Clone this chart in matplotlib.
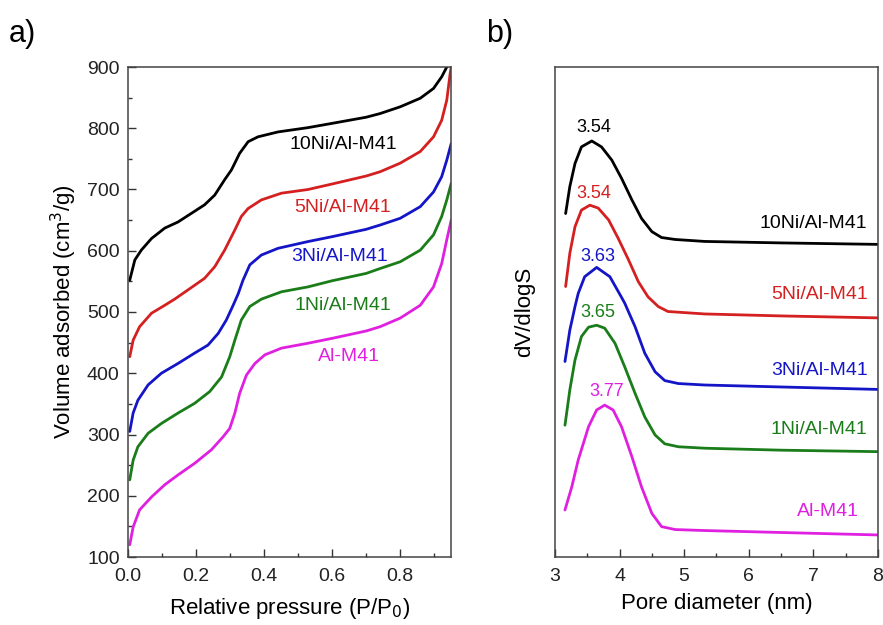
import numpy as np
import matplotlib.pyplot as plt
from matplotlib.ticker import MultipleLocator

plt.rcParams['font.family'] = ['Liberation Sans', 'DejaVu Sans']

names = ['Al-M41', '1Ni/Al-M41', '3Ni/Al-M41', '5Ni/Al-M41', '10Ni/Al-M41']
colors = ['#e020e0', '#1a7d1a', '#1515c8', '#d42020', '#000000']

# a) N2 adsorption isotherms
p_al = [0.005, 0.015, 0.034, 0.069, 0.108, 0.147, 0.196, 0.245, 0.279, 0.299, 0.314, 0.328,
        0.348, 0.373, 0.402, 0.451, 0.529, 0.6, 0.7, 0.741, 0.8, 0.859, 0.898, 0.922, 0.937, 0.95]
v_al = [120, 149, 177, 198, 218, 234, 253, 275, 296, 310, 335, 367,
        397, 416, 430, 441, 449, 457, 469, 476, 490, 511, 541, 579, 618, 650]
p_1ni = [0.005, 0.015, 0.029, 0.059, 0.098, 0.147, 0.196, 0.24, 0.275, 0.299, 0.314, 0.333,
         0.358, 0.392, 0.451, 0.529, 0.6, 0.7, 0.741, 0.8, 0.859, 0.898, 0.922, 0.937, 0.95]
v_1ni = [226, 258, 280, 302, 318, 335, 351, 370, 394, 427, 454, 487,
         509, 521, 533, 541, 551, 563, 571, 582, 601, 626, 656, 683, 710]
p_3ni = [0.005, 0.015, 0.029, 0.059, 0.098, 0.147, 0.196, 0.235, 0.265, 0.289, 0.309, 0.324,
         0.338, 0.358, 0.392, 0.441, 0.529, 0.6, 0.7, 0.741, 0.8, 0.859, 0.898, 0.922, 0.937, 0.95]
v_3ni = [305, 335, 356, 381, 400, 416, 433, 446, 465, 487, 511, 530,
         552, 577, 593, 604, 615, 623, 635, 642, 653, 672, 696, 721, 748, 775]
p_5ni = [0.005, 0.015, 0.034, 0.069, 0.108, 0.137, 0.176, 0.225, 0.255, 0.284, 0.314, 0.333,
         0.353, 0.392, 0.451, 0.529, 0.6, 0.7, 0.741, 0.8, 0.859, 0.898, 0.922, 0.937, 0.947, 0.95]
v_5ni = [427, 454, 476, 498, 511, 521, 536, 555, 574, 601, 634, 656,
         669, 683, 694, 700, 709, 722, 729, 743, 762, 786, 813, 846, 890, 900]
p_10ni = [0.005, 0.02, 0.039, 0.069, 0.108, 0.147, 0.186, 0.225, 0.255, 0.284, 0.304, 0.328,
          0.353, 0.382, 0.441, 0.529, 0.6, 0.7, 0.741, 0.8, 0.859, 0.898, 0.922, 0.937]
v_10ni = [552, 585, 601, 620, 637, 647, 661, 675, 691, 716, 732, 759,
          778, 786, 794, 801, 808, 818, 824, 835, 849, 865, 884, 900]
iso_p = [p_al, p_1ni, p_3ni, p_5ni, p_10ni]
iso_v = [v_al, v_1ni, v_3ni, v_5ni, v_10ni]
iso_lab_xy = [(0.65, 427), (0.632, 511), (0.622, 591), (0.632, 671), (0.632, 773)]

# b) pore size distributions (arbitrary offset units)
d_al = [3.155, 3.26, 3.36, 3.52, 3.645, 3.77, 3.9, 4.03, 4.19, 4.34, 4.5, 4.65, 4.86, 5.32, 6.5, 8.0]
s_al = [0.096, 0.143, 0.198, 0.266, 0.300, 0.310, 0.300, 0.266, 0.205, 0.143, 0.089, 0.062,
        0.056, 0.054, 0.050, 0.045]
d_1ni = [3.155, 3.23, 3.31, 3.41, 3.52, 3.645, 3.77, 3.93, 4.08, 4.24, 4.39, 4.55, 4.7, 4.91,
         5.32, 6.5, 8.0]
s_1ni = [0.269, 0.341, 0.402, 0.450, 0.469, 0.473, 0.467, 0.436, 0.388, 0.334, 0.286, 0.249,
         0.231, 0.225, 0.222, 0.218, 0.215]
d_3ni = [3.155, 3.23, 3.31, 3.36, 3.46, 3.645, 3.85, 4.03, 4.08, 4.24, 4.39, 4.55, 4.7, 4.91,
         5.32, 6.5, 8.0]
s_3ni = [0.399, 0.463, 0.511, 0.538, 0.572, 0.591, 0.572, 0.530, 0.518, 0.470, 0.416, 0.378,
         0.360, 0.354, 0.351, 0.347, 0.342]
d_5ni = [3.165, 3.23, 3.31, 3.41, 3.54, 3.67, 3.83, 3.98, 4.14, 4.29, 4.44, 4.6, 4.75, 5.32,
         6.5, 8.0]
s_5ni = [0.552, 0.620, 0.674, 0.708, 0.718, 0.712, 0.688, 0.650, 0.606, 0.562, 0.531, 0.511,
         0.501, 0.496, 0.492, 0.488]
d_10ni = [3.165, 3.23, 3.31, 3.41, 3.57, 3.72, 3.88, 4.03, 4.19, 4.34, 4.5, 4.65, 4.86, 5.32,
          6.5, 8.0]
s_10ni = [0.701, 0.756, 0.803, 0.837, 0.849, 0.837, 0.810, 0.773, 0.729, 0.691, 0.664, 0.652,
          0.648, 0.644, 0.641, 0.638]
psd_d = [d_al, d_1ni, d_3ni, d_5ni, d_10ni]
psd_s = [s_al, s_1ni, s_3ni, s_5ni, s_10ni]
peak_labels = ['3.77', '3.65', '3.63', '3.54', '3.54']
peak_xy = [(3.8, 0.337), (3.67, 0.499), (3.67, 0.614), (3.6, 0.741), (3.6, 0.876)]
psd_lab_xy = [(7.22, 0.092), (7.09, 0.261), (7.09, 0.380), (7.09, 0.535), (7.0, 0.680)]

fig = plt.figure(figsize=(8.83, 6.25), dpi=100)
ax1 = fig.add_axes([0.145, 0.1088, 0.366, 0.784])
ax2 = fig.add_axes([0.6285, 0.1088, 0.3658, 0.784])

for p, v, c, n, (lx, ly) in zip(iso_p, iso_v, colors, names, iso_lab_xy):
    ax1.plot(p, v, color=c, lw=2, solid_capstyle='round', solid_joinstyle='round')
    ax1.text(lx, ly, n, color=c, fontsize=14, ha='center', va='center')

ax1.set_xlim(0, 0.95)
ax1.set_ylim(100, 900)
ax1.xaxis.set_major_locator(MultipleLocator(0.2))
ax1.xaxis.set_minor_locator(MultipleLocator(0.1))
ax1.yaxis.set_major_locator(MultipleLocator(100))
ax1.yaxis.set_minor_locator(MultipleLocator(50))
ax1.set_xlabel('Relative pressure (P/P$_0$)', fontsize=16, labelpad=8)
ax1.set_ylabel('Volume adsorbed (cm$^3$/g)', fontsize=16, labelpad=6)

for d, s, c, n, pk, (px, py), (lx, ly) in zip(psd_d, psd_s, colors, names, peak_labels, peak_xy, psd_lab_xy):
    ax2.plot(d, s, color=c, lw=2, solid_capstyle='round', solid_joinstyle='round')
    ax2.text(px, py, pk, color=c, fontsize=13, ha='center', va='center')
    ax2.text(lx, ly, n, color=c, fontsize=14, ha='center', va='center')

ax2.set_xlim(3, 8)
ax2.set_ylim(0, 1)
ax2.xaxis.set_major_locator(MultipleLocator(1))
ax2.xaxis.set_minor_locator(MultipleLocator(0.5))
ax2.set_yticks([])
ax2.set_xlabel('Pore diameter (nm)', fontsize=16, labelpad=6)
ax2.set_ylabel('dV/dlogS', fontsize=16, labelpad=14)

for ax in (ax1, ax2):
    ax.tick_params(which='both', direction='in', labelsize=14, colors='#333333',
                   labelcolor='#222222', width=1)
    ax.tick_params(which='major', length=6)
    ax.tick_params(which='minor', length=3)
    ax.tick_params(axis='x', which='major', pad=8)
    ax.tick_params(axis='y', which='major', pad=6)
    for sp in ax.spines.values():
        sp.set_color('#444444')
        sp.set_linewidth(1.1)

fig.text(0.01, 0.945, 'a)', fontsize=22, va='center')
fig.text(0.55, 0.945, 'b)', fontsize=22, va='center')

fig.savefig('out.png', dpi=100)
